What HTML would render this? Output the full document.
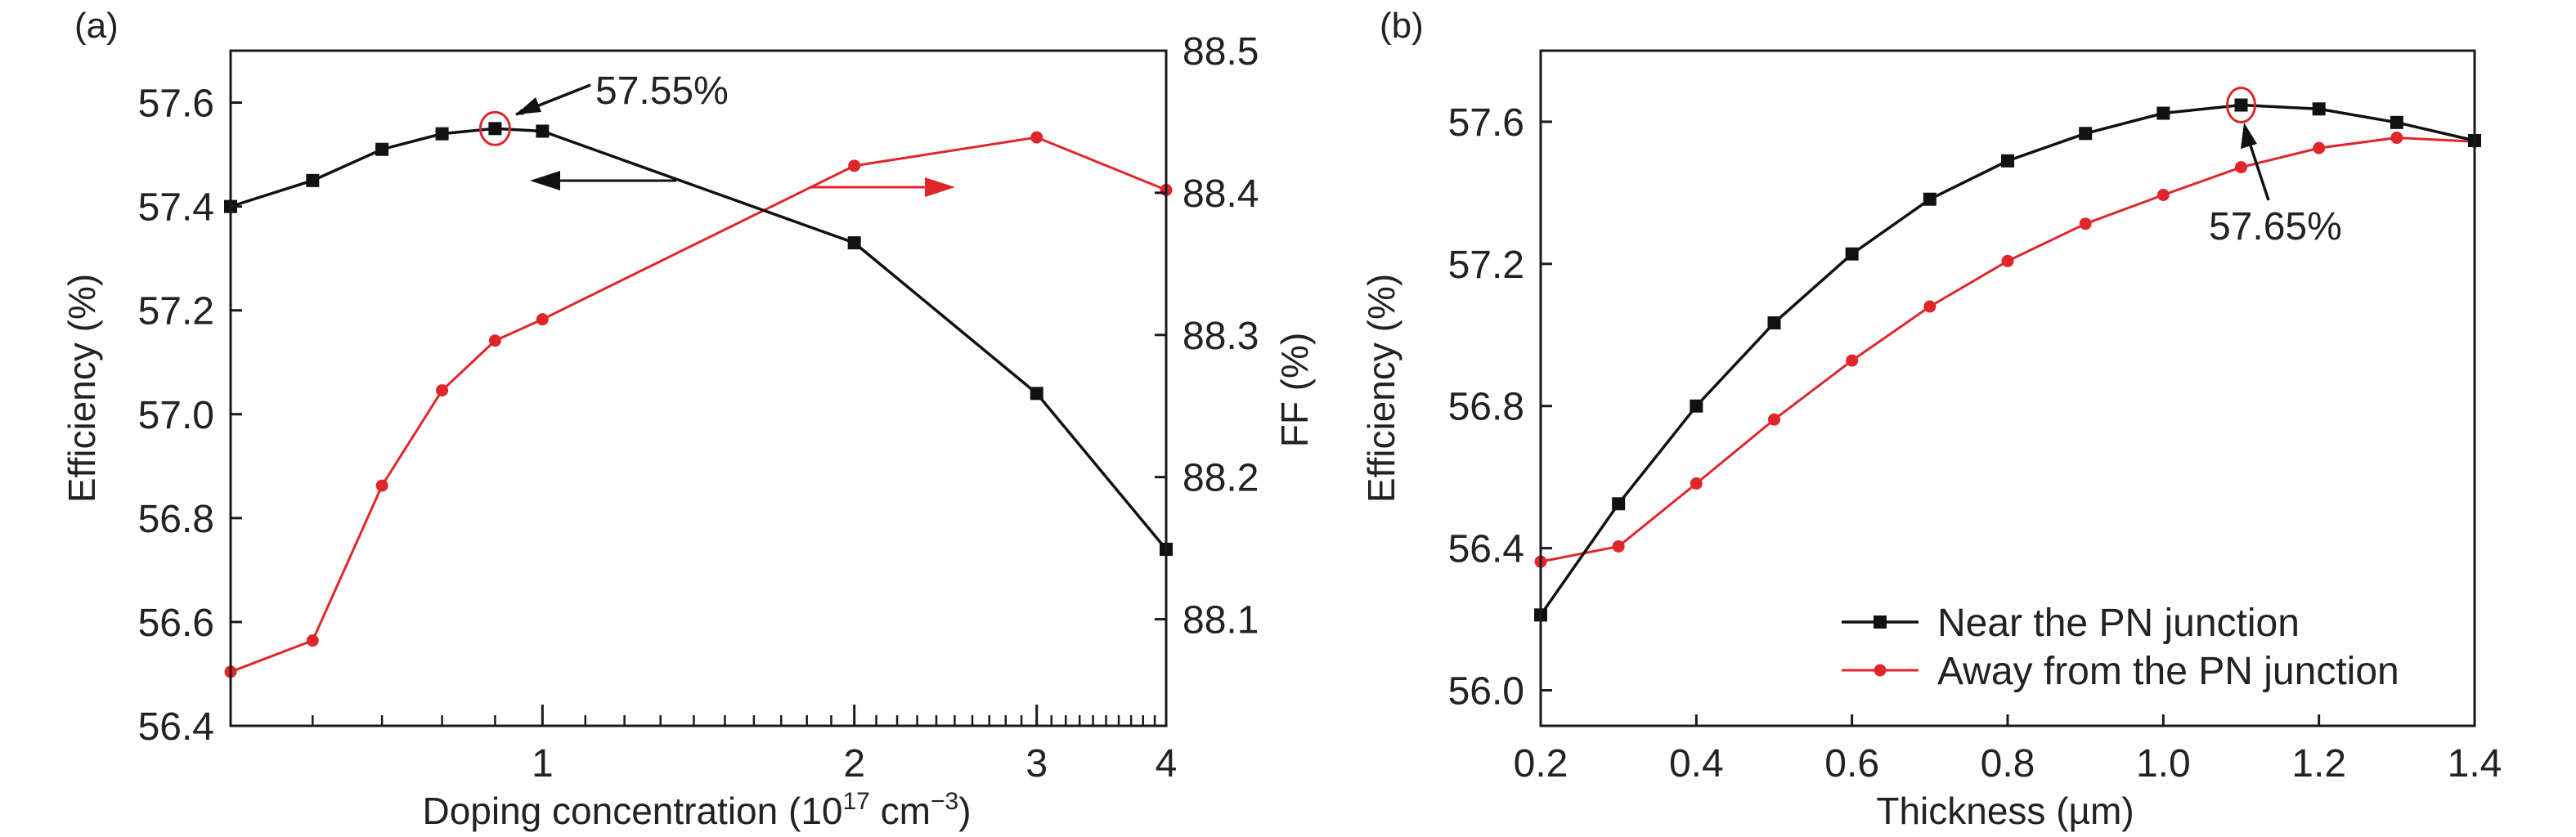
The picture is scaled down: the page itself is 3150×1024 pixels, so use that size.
<!DOCTYPE html>
<html><head><meta charset="utf-8"><style>
html,body{margin:0;padding:0;background:#fff;}
svg{display:block;font-family:"Liberation Sans",sans-serif;}
</style></head><body>
<svg id="fig" width="3150" height="1024" viewBox="0 0 3150 1024" xmlns="http://www.w3.org/2000/svg">
<defs>
<marker id="ahK" markerWidth="10" markerHeight="8" refX="9" refY="4" orient="auto" markerUnits="userSpaceOnUse" viewBox="0 0 10 8"><path d="M0,0 L10,4 L0,8 Z" fill="#111"/></marker>
</defs>
<g id="pa"></g>
<g id="pb"></g>
</svg>
<script>
// Panel (a) data
const aX = [0.5, 0.6, 0.7, 0.8, 0.9, 1, 2, 3, 4];
const aEff = [57.40, 57.45, 57.51, 57.54, 57.55, 57.545, 57.33, 57.04, 56.74];
const aFF = [88.063, 88.085, 88.194, 88.261, 88.296, 88.311, 88.419, 88.439, 88.402];
const aYTicks = [56.4, 56.6, 56.8, 57.0, 57.2, 57.4, 57.6];
const aYTickLabels = ["56.4", "56.6", "56.8", "57.0", "57.2", "57.4", "57.6"];
const aY2Ticks = [88.1, 88.2, 88.3, 88.4, 88.5];
const aY2TickLabels = ["88.1", "88.2", "88.3", "88.4", "88.5"];
const aXTicks = [1, 2, 3, 4];
const aXTickLabels = ["1", "2", "3", "4"];
const aXMinor = [0.6, 0.7, 0.8, 0.9, 1.1, 1.2, 1.3, 1.4, 1.5, 1.6, 1.7, 1.8, 1.9, 2.1, 2.2, 2.3, 2.4, 2.5, 2.6, 2.7, 2.8, 2.9, 3.1, 3.2, 3.3, 3.4, 3.5, 3.6, 3.7, 3.8, 3.9];
// Panel (b) data
const bX = [0.2, 0.3, 0.4, 0.5, 0.6, 0.7, 0.8, 0.9, 1.0, 1.1, 1.2, 1.3, 1.4];
const bNear = [56.212, 56.525, 56.80, 57.034, 57.228, 57.382, 57.49, 57.567, 57.624, 57.647, 57.636, 57.598, 57.547];
const bAway = [56.362, 56.405, 56.582, 56.762, 56.928, 57.080, 57.208, 57.313, 57.394, 57.472, 57.526, 57.555, 57.544];
const bXTicks = [0.2, 0.4, 0.6, 0.8, 1.0, 1.2, 1.4];
const bXTickLabels = ["0.2", "0.4", "0.6", "0.8", "1.0", "1.2", "1.4"];
const bYTicks = [56.0, 56.4, 56.8, 57.2, 57.6];
const bYTickLabels = ["56.0", "56.4", "56.8", "57.2", "57.6"];

const NS = "http://www.w3.org/2000/svg";
function mk(parent, tag, attrs, text) {
  const e = document.createElementNS(NS, tag);
  for (const k in attrs) e.setAttribute(k, attrs[k]);
  if (text !== undefined) e.textContent = text;
  parent.appendChild(e);
  return e;
}
const RED = "#e0262b", BLK = "#111";

// ---------- Panel A ----------
const pa = document.getElementById("pa");
const A = {L: 282, R: 1426, T: 62, B: 888};
const axA = v => A.L + (Math.log10(v) - Math.log10(0.5)) / (Math.log10(4) - Math.log10(0.5)) * (A.R - A.L);
const ayA = v => A.B - (v - 56.4) / (57.7 - 56.4) * (A.B - A.T);
const ay2A = v => A.B - (v - 88.025) / (88.5 - 88.025) * (A.B - A.T);

let t = mk(pa, "text", {x: 91, y: 46, "font-size": 44, fill: "#222"}, "(a)");



// red series
let pts = aX.map((x, i) => axA(x) + "," + ay2A(aFF[i])).join(" ");
let ln = mk(pa, "polyline", {points: pts, fill: "none", stroke: RED, "stroke-width": 3});


aX.forEach((x, i) => {
  const c = mk(pa, "circle", {cx: axA(x), cy: ay2A(aFF[i]), r: 7.5, fill: RED});
  
  
});
// black series
pts = aX.map((x, i) => axA(x) + "," + ayA(aEff[i])).join(" ");
ln = mk(pa, "polyline", {points: pts, fill: "none", stroke: BLK, "stroke-width": 3.5});


aX.forEach((x, i) => {
  const s = mk(pa, "rect", {x: axA(x) - 8, y: ayA(aEff[i]) - 8, width: 16, height: 16, fill: BLK});
  
  
});

// frame
let fr = mk(pa, "rect", {x: A.L, y: A.T, width: A.R - A.L, height: A.B - A.T, fill: "none", stroke: "#1a1a1a", "stroke-width": 3});



aYTicks.forEach((v, i) => {
  const y = ayA(v);
  const tk = mk(pa, "line", {x1: A.L, x2: A.L + 14, y1: y, y2: y, stroke: "#1a1a1a", "stroke-width": 3});
  
  
  const tl = mk(pa, "text", {x: 262, y: y + 17, "font-size": 48, "text-anchor": "end", fill: "#222"}, aYTickLabels[i]);
  
  
});
aY2Ticks.forEach((v, i) => {
  const y = ay2A(v);
  const tk = mk(pa, "line", {x1: A.R, x2: A.R - 14, y1: y, y2: y, stroke: "#1a1a1a", "stroke-width": 3});
  
  
  const tl = mk(pa, "text", {x: 1446, y: y + 17, "font-size": 48, fill: "#222"}, aY2TickLabels[i]);
  
  
});
aXTicks.forEach((v, i) => {
  const x = axA(v);
  const tk = mk(pa, "line", {x1: x, x2: x, y1: A.B, y2: A.B - 26, stroke: "#1a1a1a", "stroke-width": 3});
  
  
  const tl = mk(pa, "text", {x: x, y: 950, "font-size": 48, "text-anchor": "middle", fill: "#222"}, aXTickLabels[i]);
  
  
});
aXMinor.forEach(v => {
  const x = axA(v);
  const tk = mk(pa, "line", {x1: x, x2: x, y1: A.B, y2: A.B - 13, stroke: "#1a1a1a", "stroke-width": 2.5});
  
  
});

t = mk(pa, "text", {x: 0, y: 0, "font-size": 46, "text-anchor": "middle", fill: "#222", transform: "translate(116,475) rotate(-90)"}, "Efficiency (%)");


t = mk(pa, "text", {x: 0, y: 0, "font-size": 46, "text-anchor": "middle", fill: "#222", transform: "translate(1599,477) rotate(-90)"}, "FF (%)");


t = mk(pa, "text", {x: 852, y: 1008, "font-size": 46, "text-anchor": "middle", fill: "#222"});


t.innerHTML = 'Doping concentration (10<tspan font-size="30" dy="-18">17</tspan><tspan dy="18"> cm</tspan><tspan font-size="30" dy="-18">−3</tspan><tspan dy="18">)</tspan>';

// annotations a
let el = mk(pa, "ellipse", {cx: axA(0.9), cy: ayA(57.55), rx: 18, ry: 20, fill: "none", stroke: RED, "stroke-width": 3});


el = mk(pa, "line", {x1: 722, y1: 104, x2: 631, y2: 140, stroke: BLK, "stroke-width": 3.5, "marker-end": "url(#ahK)"});


el = mk(pa, "path", {d: "M631,140 L655,119 L662,137 Z", fill: BLK});


t = mk(pa, "text", {x: 728, y: 127, "font-size": 48, fill: "#222"}, "57.55%");


el = mk(pa, "line", {x1: 827, y1: 221, x2: 680, y2: 221, stroke: BLK, "stroke-width": 3});


el = mk(pa, "path", {d: "M648,221 L685,209 L685,233 Z", fill: BLK});


el = mk(pa, "line", {x1: 990, y1: 229, x2: 1135, y2: 229, stroke: RED, "stroke-width": 3});


el = mk(pa, "path", {d: "M1168,229 L1131,217 L1131,241 Z", fill: RED});



// ---------- Panel B ----------
const pb = document.getElementById("pb");
const B = {L: 1884, R: 3026, T: 62, B: 888};
const axB = v => B.L + (v - 0.2) / (1.4 - 0.2) * (B.R - B.L);
const ayB = v => B.B - (v - 55.9) / (57.8 - 55.9) * (B.B - B.T);

t = mk(pb, "text", {x: 1687, y: 46, "font-size": 44, fill: "#222"}, "(b)");



pts = bX.map((x, i) => axB(x) + "," + ayB(bAway[i])).join(" ");
ln = mk(pb, "polyline", {points: pts, fill: "none", stroke: RED, "stroke-width": 3});


bX.forEach((x, i) => {
  const c = mk(pb, "circle", {cx: axB(x), cy: ayB(bAway[i]), r: 7.5, fill: RED});
  
  
});
pts = bX.map((x, i) => axB(x) + "," + ayB(bNear[i])).join(" ");
ln = mk(pb, "polyline", {points: pts, fill: "none", stroke: BLK, "stroke-width": 3.5});


bX.forEach((x, i) => {
  const s = mk(pb, "rect", {x: axB(x) - 8, y: ayB(bNear[i]) - 8, width: 16, height: 16, fill: BLK});
  
  
});

fr = mk(pb, "rect", {x: B.L, y: B.T, width: B.R - B.L, height: B.B - B.T, fill: "none", stroke: "#1a1a1a", "stroke-width": 3});



bYTicks.forEach((v, i) => {
  const y = ayB(v);
  const tk = mk(pb, "line", {x1: B.L, x2: B.L + 14, y1: y, y2: y, stroke: "#1a1a1a", "stroke-width": 3});
  
  
  const tl = mk(pb, "text", {x: 1864, y: y + 17, "font-size": 48, "text-anchor": "end", fill: "#222"}, bYTickLabels[i]);
  
  
});
bXTicks.forEach((v, i) => {
  const x = axB(v);
  const tk = mk(pb, "line", {x1: x, x2: x, y1: B.B, y2: B.B - 14, stroke: "#1a1a1a", "stroke-width": 3});
  
  
  const tl = mk(pb, "text", {x: x, y: 950, "font-size": 48, "text-anchor": "middle", fill: "#222"}, bXTickLabels[i]);
  
  
});

t = mk(pb, "text", {x: 0, y: 0, "font-size": 46, "text-anchor": "middle", fill: "#222", transform: "translate(1705,475) rotate(-90)"}, "Efficiency (%)");


t = mk(pb, "text", {x: 2452, y: 1008, "font-size": 46, "text-anchor": "middle", fill: "#222"}, "Thickness (µm)");



el = mk(pb, "ellipse", {cx: axB(1.1), cy: ayB(57.647), rx: 17, ry: 21, fill: "none", stroke: RED, "stroke-width": 3});


el = mk(pb, "line", {x1: 2774, y1: 245, x2: 2751, y2: 175, stroke: BLK, "stroke-width": 3.5});


el = mk(pb, "path", {d: "M2744,150 L2740,182 L2760,176 Z", fill: BLK});


t = mk(pb, "text", {x: 2701, y: 293, "font-size": 48, fill: "#222"}, "57.65%");



// legend
const lg = mk(pb, "g", {});


el = mk(lg, "line", {x1: 2252, x2: 2346, y1: 761, y2: 761, stroke: BLK, "stroke-width": 3.5});


el = mk(lg, "rect", {x: 2291, y: 753, width: 16, height: 16, fill: BLK});


t = mk(lg, "text", {x: 2369, y: 778, "font-size": 48, fill: "#222"}, "Near the PN junction");


el = mk(lg, "line", {x1: 2252, x2: 2346, y1: 820, y2: 820, stroke: RED, "stroke-width": 3});


el = mk(lg, "circle", {cx: 2299, cy: 820, r: 7.5, fill: RED});


t = mk(lg, "text", {x: 2369, y: 837, "font-size": 48, fill: "#222"}, "Away from the PN junction");


</script>
</body></html>
